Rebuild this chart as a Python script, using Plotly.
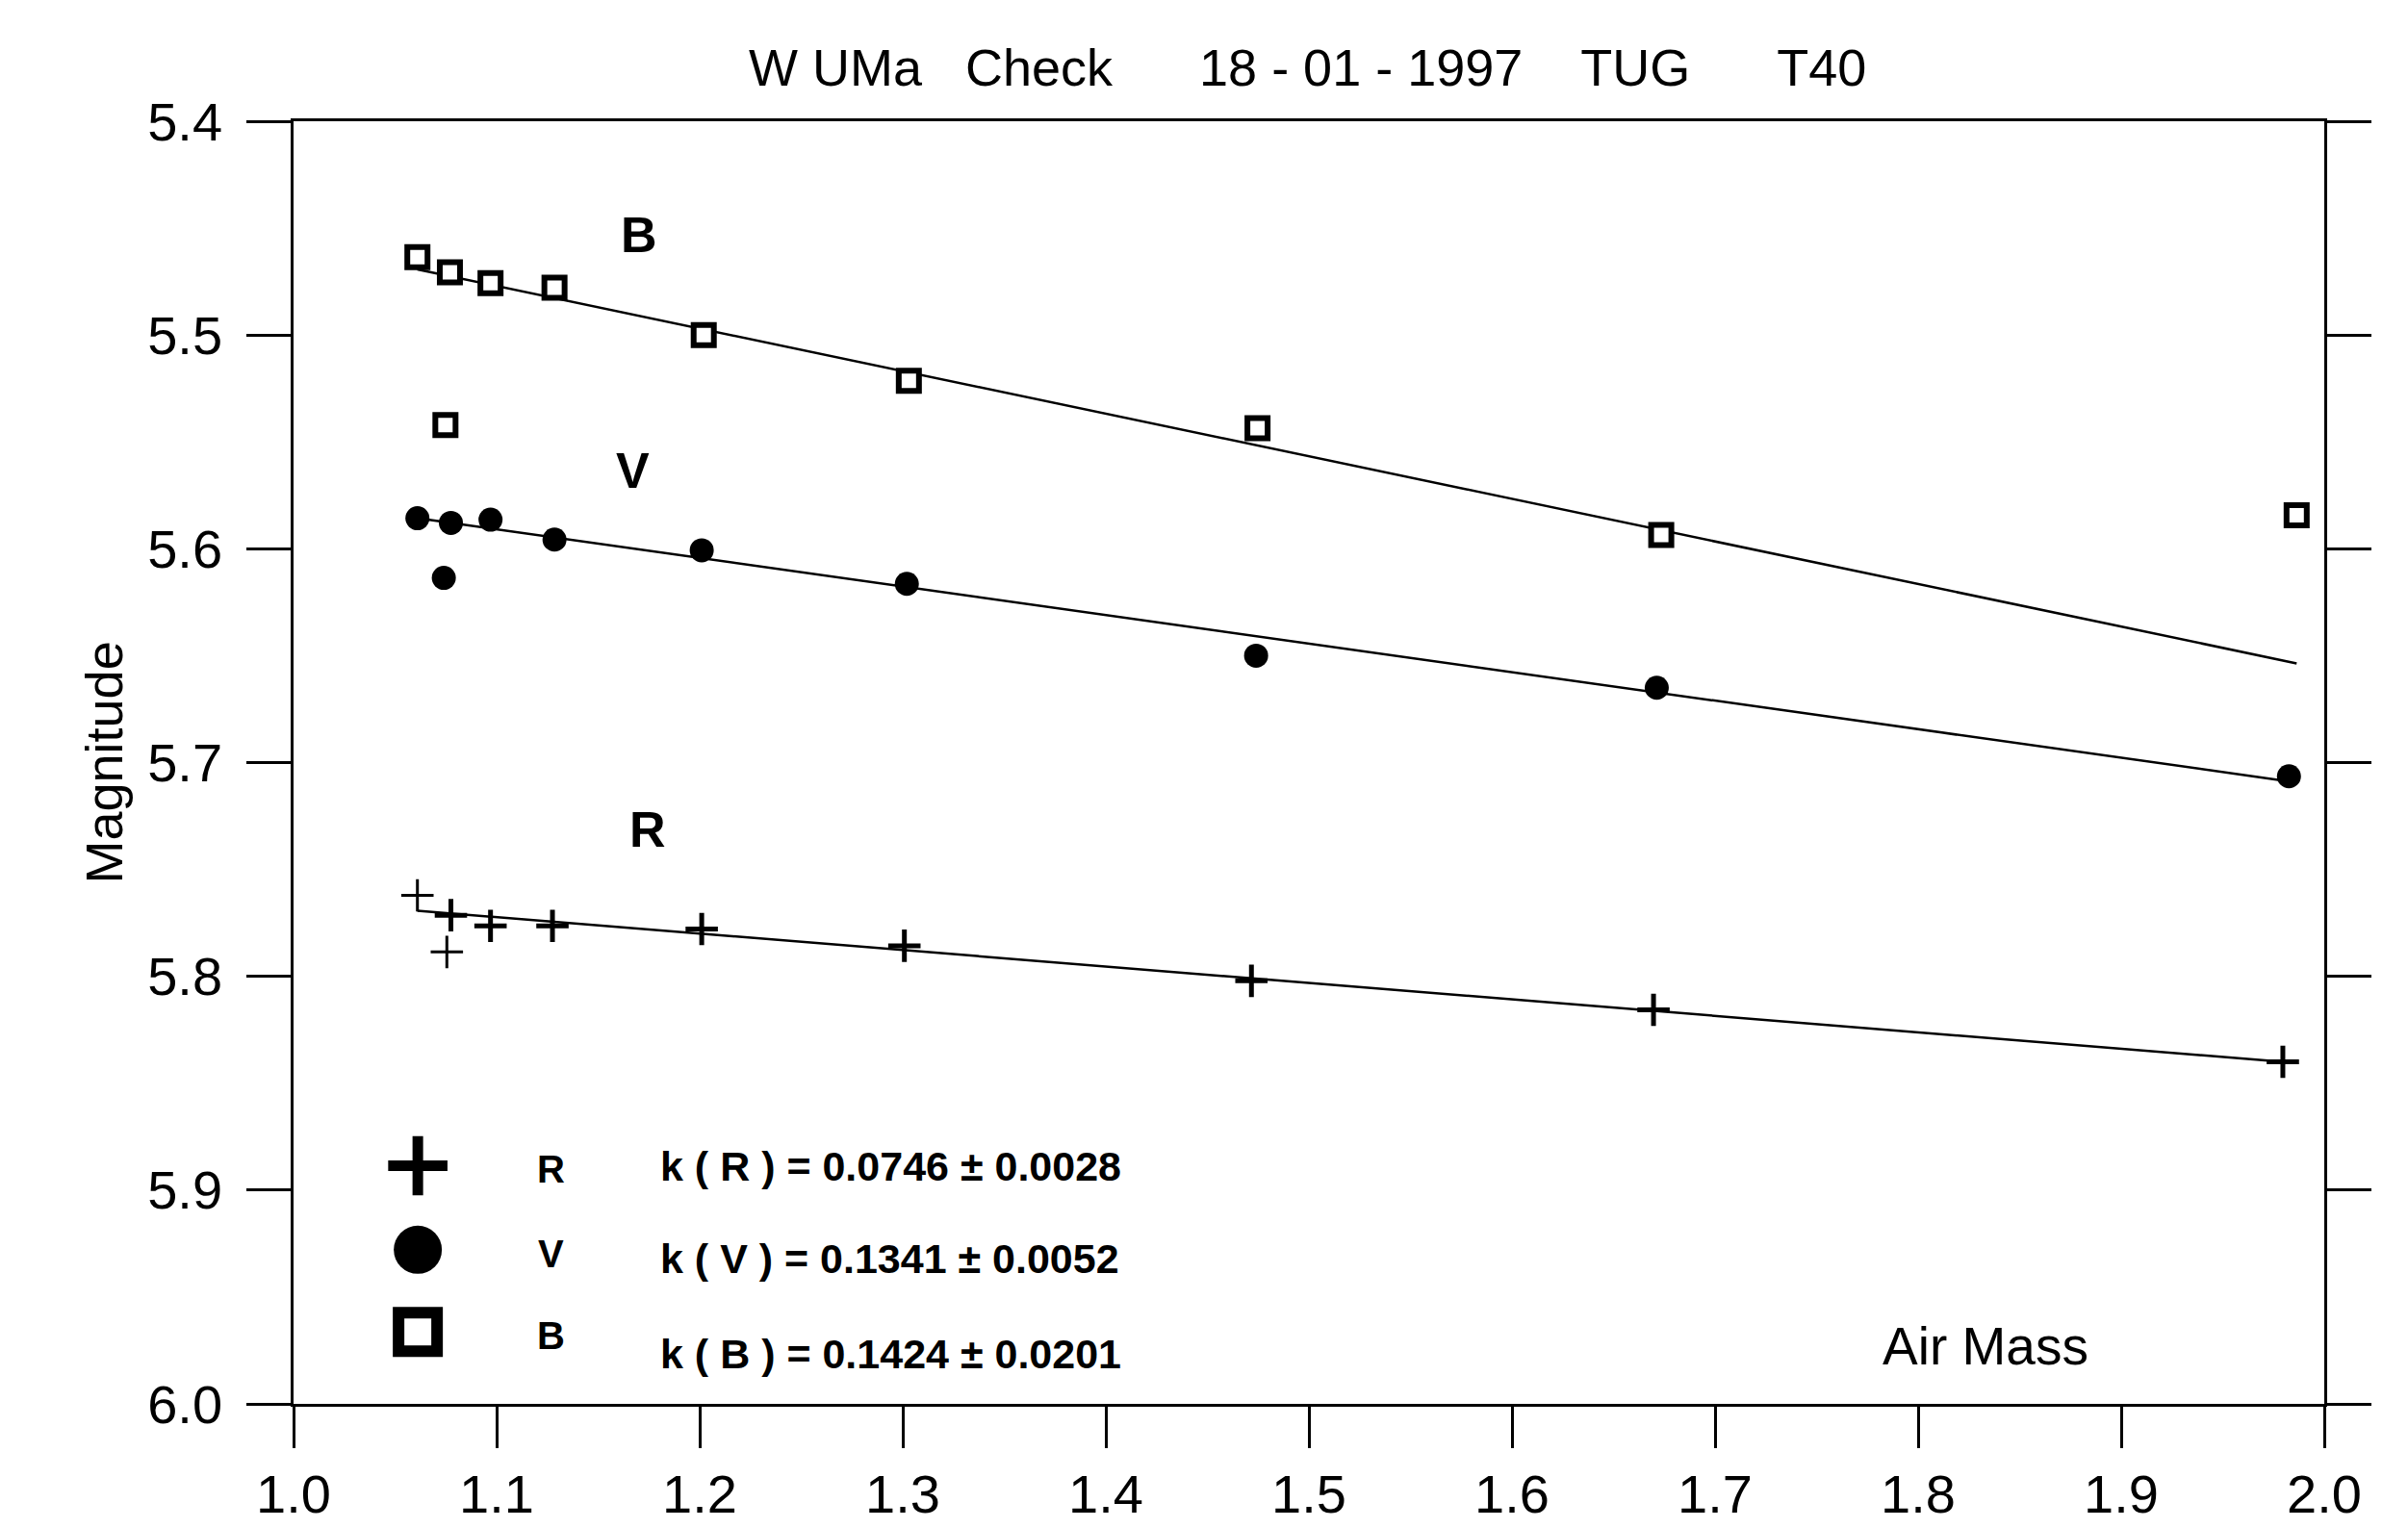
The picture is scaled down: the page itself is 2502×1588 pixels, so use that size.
import plotly.graph_objects as go

# ---- data ----
b_x = [1.061, 1.077, 1.097, 1.1285, 1.202, 1.303, 1.4747, 1.6735, 1.9864]
b_y = [5.4636, 5.4707, 5.4757, 5.4779, 5.5000, 5.5214, 5.5436, 5.5936, 5.5843]
b_out_x = [1.0748]
b_out_y = [5.5421]

v_x = [1.061, 1.0775, 1.097, 1.1285, 1.2010, 1.302, 1.4740, 1.6713, 1.9826]
v_y = [5.5857, 5.5879, 5.5864, 5.5957, 5.6007, 5.6164, 5.6500, 5.6650, 5.7064]
v_out_x = [1.0740]
v_out_y = [5.6136]

r_x = [1.0775, 1.097, 1.1275, 1.2010, 1.3008, 1.4717, 1.6697, 1.9796]
r_y = [5.7714, 5.7764, 5.7764, 5.7779, 5.7857, 5.8021, 5.8157, 5.8400]
r_out_x = [1.061, 1.0755]
r_out_y = [5.7621, 5.7886]

# fitted lines (end points)
b_fit_x = [1.061, 1.9864]
b_fit_y = [5.4693, 5.6536]
v_fit_x = [1.061, 1.9864]
v_fit_y = [5.5857, 5.7093]
r_fit_x = [1.061, 1.9796]
r_fit_y = [5.7693, 5.8400]

band_names = ["R", "V", "B"]
k_texts = ["k ( R ) = 0.0746 \u00b1 0.0028",
           "k ( V ) = 0.1341 \u00b1 0.0052",
           "k ( B ) = 0.1424 \u00b1 0.0201"]
leg_sym_x = [1.0612, 1.0612, 1.0612]
leg_sym_y = [5.8886, 5.9279, 5.9664]
leg_lab_x = [1.127, 1.127, 1.127]
leg_lab_y = [5.890, 5.930, 5.968]
k_x = [1.1795, 1.1795, 1.1795]
k_y = [5.8886, 5.932, 5.9764]

curve_lbl = ["B", "V", "R"]
curve_lbl_x = [1.1701, 1.167, 1.1746]
curve_lbl_y = [5.4529, 5.5636, 5.7314]

x_ticks = [1.0, 1.1, 1.2, 1.3, 1.4, 1.5, 1.6, 1.7, 1.8, 1.9, 2.0]
y_ticks = [5.4, 5.5, 5.6, 5.7, 5.8, 5.9, 6.0]

FONT = "Liberation Sans, Arial, sans-serif"

fig = go.Figure()

line_style = dict(color="black", width=2.5)
for fx, fy in [(b_fit_x, b_fit_y), (v_fit_x, v_fit_y), (r_fit_x, r_fit_y)]:
    fig.add_trace(go.Scatter(x=fx, y=fy, mode="lines", line=line_style,
                             showlegend=False, hoverinfo="skip"))

sq = dict(symbol="square", size=21, color="white", line=dict(color="black", width=6))
circ = dict(symbol="circle", size=25, color="black", line=dict(color="black", width=0))
crs = dict(symbol="cross-thin", size=24, color="black", line=dict(color="black", width=5))
crs_thin = dict(symbol="cross-thin", size=24, color="black", line=dict(color="black", width=3))

fig.add_trace(go.Scatter(x=b_x, y=b_y, mode="markers", marker=sq, showlegend=False))
fig.add_trace(go.Scatter(x=b_out_x, y=b_out_y, mode="markers", marker=sq, showlegend=False))
fig.add_trace(go.Scatter(x=v_x, y=v_y, mode="markers", marker=circ, showlegend=False))
fig.add_trace(go.Scatter(x=v_out_x, y=v_out_y, mode="markers", marker=circ, showlegend=False))
fig.add_trace(go.Scatter(x=r_x, y=r_y, mode="markers", marker=crs, showlegend=False))
fig.add_trace(go.Scatter(x=r_out_x, y=r_out_y, mode="markers", marker=crs_thin, showlegend=False))

# legend-like symbols
leg_markers = [
    dict(symbol="cross-thin", size=44, color="black", line=dict(color="black", width=11)),
    dict(symbol="circle", size=50, color="black"),
    dict(symbol="square", size=40, color="white", line=dict(color="black", width=12)),
]
for i in range(3):
    fig.add_trace(go.Scatter(x=[leg_sym_x[i]], y=[leg_sym_y[i]], mode="markers",
                             marker=leg_markers[i], showlegend=False))

annotations = []
for i in range(3):
    annotations.append(dict(x=leg_lab_x[i], y=leg_lab_y[i], xref="x", yref="y",
                            text="<b>%s</b>" % band_names[i], showarrow=False,
                            font=dict(family=FONT, size=40, color="black")))
    annotations.append(dict(x=k_x[i], y=k_y[i], xref="x", yref="y", xanchor="left",
                            text="<b>%s</b>" % k_texts[i], showarrow=False,
                            font=dict(family=FONT, size=43, color="black")))
    annotations.append(dict(x=curve_lbl_x[i], y=curve_lbl_y[i], xref="x", yref="y",
                            text="<b>%s</b>" % curve_lbl[i], showarrow=False,
                            font=dict(family=FONT, size=52, color="black")))

annotations.append(dict(x=1.833, y=5.973, xref="x", yref="y", text="Air Mass",
                        showarrow=False, font=dict(family=FONT, size=55, color="black")))
annotations.append(dict(x=-0.109, y=0.5, xref="paper", yref="paper", text="Magnitude",
                        textangle=-90, showarrow=False,
                        font=dict(family=FONT, size=54, color="black")))
annotations.append(dict(x=0.4995, y=1.0418, xref="paper", yref="paper",
                        text="W UMa&nbsp;&nbsp;&nbsp;Check&nbsp;&nbsp;&nbsp;&nbsp;&nbsp;&nbsp;18 - 01 - 1997&nbsp;&nbsp;&nbsp;&nbsp;TUG&nbsp;&nbsp;&nbsp;&nbsp;&nbsp;&nbsp;T40",
                        showarrow=False, yanchor="middle", xanchor="center",
                        font=dict(family=FONT, size=54, color="black")))

fig.update_layout(
    width=2502, height=1588, autosize=False,
    paper_bgcolor="white", plot_bgcolor="white",
    margin=dict(l=297, r=95, t=118, b=129),
    annotations=annotations,
    xaxis=dict(range=[1.0, 2.0], tickvals=x_ticks, ticktext=["%.1f" % v for v in x_ticks],
               showgrid=False, zeroline=False, showline=True, linecolor="black",
               linewidth=2.5, mirror=True, ticks="outside", ticklen=43, tickwidth=2.5,
               tickcolor="black",
               tickfont=dict(family=FONT, size=56, color="black")),
    yaxis=dict(range=[6.0, 5.4], tickvals=y_ticks, ticktext=["%.1f" % v for v in y_ticks],
               showgrid=False, zeroline=False, showline=True, linecolor="black",
               linewidth=2.5, mirror="ticks", ticks="outside", ticklen=46, tickwidth=2.5,
               tickcolor="black", ticklabelstandoff=14,
               tickfont=dict(family=FONT, size=56, color="black")),
)

fig.write_html("out.html")
